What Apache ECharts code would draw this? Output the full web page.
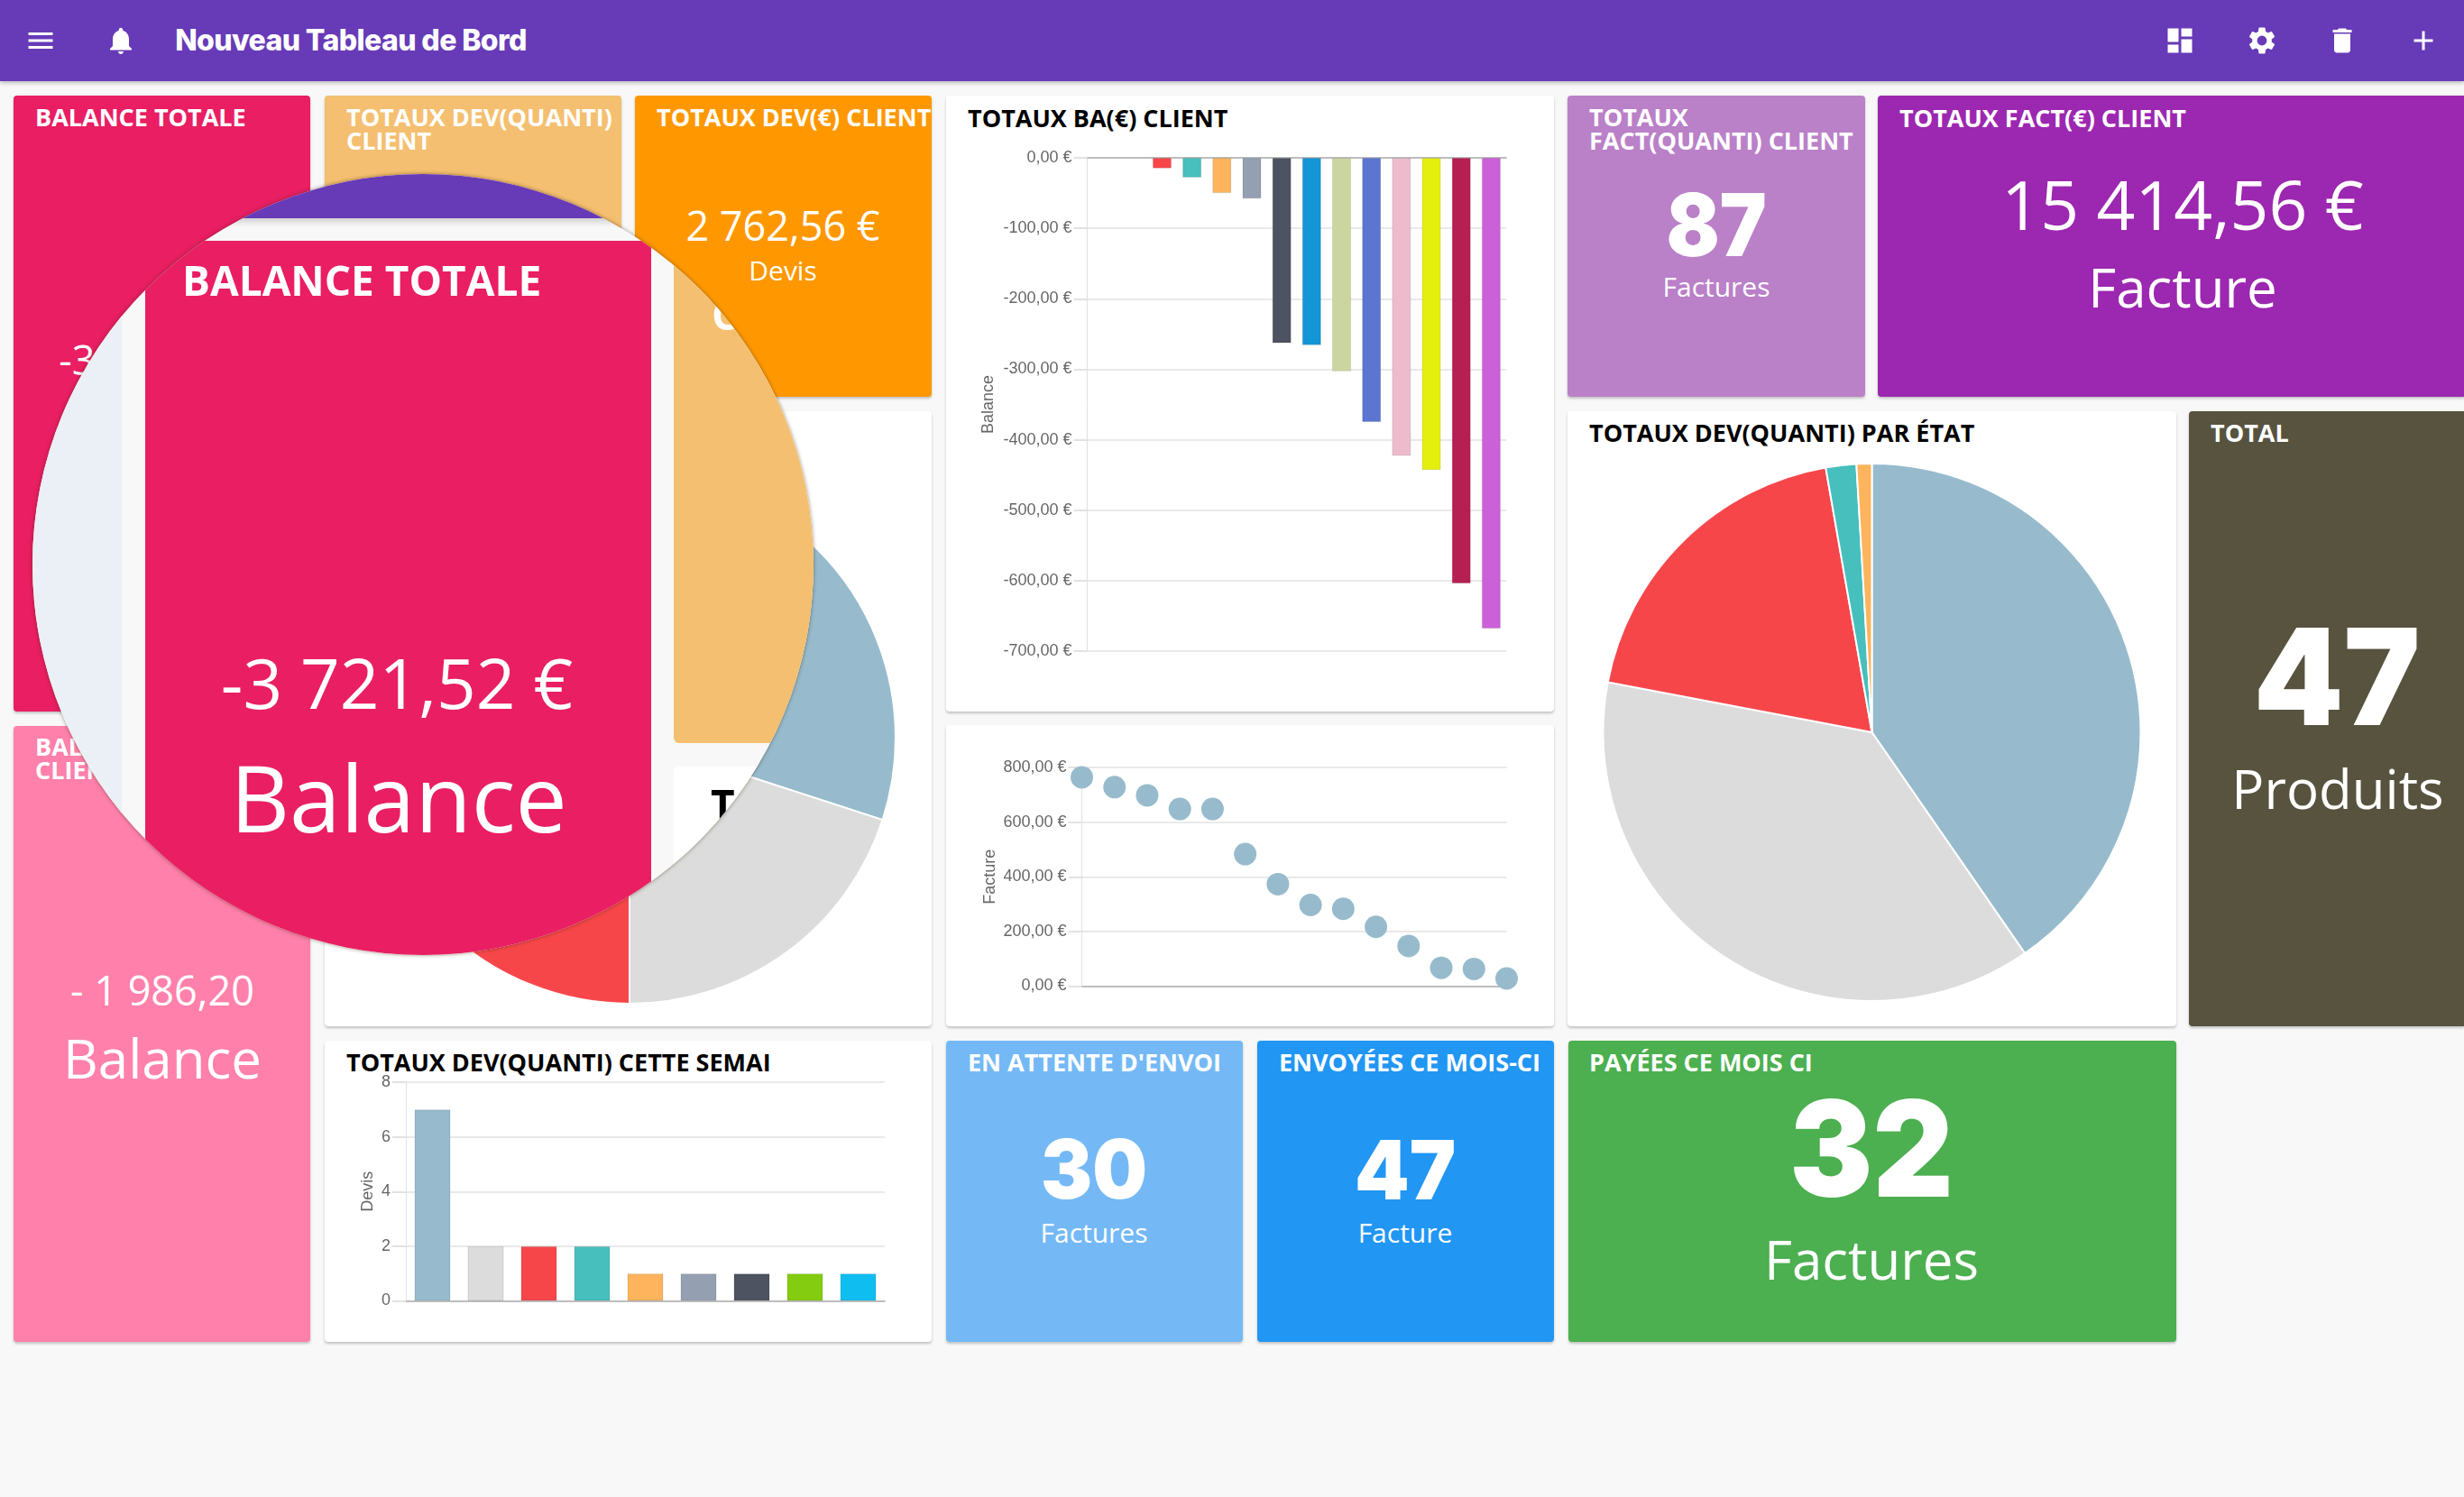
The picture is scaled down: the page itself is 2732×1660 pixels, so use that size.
<!DOCTYPE html>
<html lang="fr"><head><meta charset="utf-8"><title>Nouveau Tableau de Bord</title>
<script src="https://cdn.jsdelivr.net/npm/echarts@6/dist/echarts.min.js"></script>
<style>
html,body{margin:0;padding:0;width:2732px;height:1660px;overflow:hidden;background:#f8f8f8;font-family:"Open Sans",sans-serif}
.card,.bar,.t,.c,.ic{position:absolute}
.card{border-radius:4px;box-shadow:0 2px 3px rgba(0,0,0,.22);color:#fff;z-index:1;overflow:hidden}
.white{background:#fff;color:#000}
.t{position:absolute;font-weight:700;font-size:27px;line-height:26px;white-space:pre;letter-spacing:0;z-index:1}
.c{transform:translate(-50%,-50%);white-space:pre;color:#fff;line-height:1;z-index:1}
.hv{font-family:Inter,sans-serif;font-weight:900}
.bar{left:0;top:0;width:2732px;height:90px;background:#673ab7;box-shadow:0 2px 5px rgba(0,0,0,.25);z-index:1}
#ch{position:absolute;left:0;top:0;width:2732px;height:1660px;z-index:2;pointer-events:none}
#lens{position:absolute;left:36px;top:193px;width:866px;height:866px;border-radius:50%;overflow:hidden;z-index:3;box-shadow:0 0 4px rgba(60,40,0,.55)}
#lens>div{position:absolute}
#li{left:-36px;top:-193px;width:2732px;height:1660px;background:#f8f8f8}
#li>div{position:absolute}
.ic{z-index:1;fill:#fff}
</style></head><body>
<div class="bar"></div>
<svg class="ic" style="left:27px;top:27px" width="36" height="36" viewBox="0 0 24 24"><path d="M3 18h18v-2H3v2zm0-5h18v-2H3v2zm0-7v2h18V6H3z"/></svg>
<svg class="ic" style="left:116px;top:27px" width="36" height="36" viewBox="0 0 24 24"><path d="M12 22c1.1 0 2-.9 2-2h-4c0 1.1.9 2 2 2zm6-6v-5c0-3.07-1.63-5.64-4.5-6.32V4c0-.83-.67-1.5-1.5-1.5s-1.5.67-1.5 1.5v.68C7.64 5.36 6 7.92 6 11v5l-2 2v1h16v-1l-2-2z"/></svg>
<div class="c hv" style="left:389px;top:45px;font-size:32px;font-weight:800;letter-spacing:-.6px;z-index:2">Nouveau Tableau de Bord</div>
<svg class="ic" style="left:2399px;top:27px" width="36" height="36" viewBox="0 0 24 24"><path d="M3 13h8V3H3v10zm0 8h8v-6H3v6zm10 0h8V11h-8v10zm0-18v6h8V3h-8z"/></svg>
<svg class="ic" style="left:2490px;top:27px" width="36" height="36" viewBox="0 0 24 24"><path d="M19.14 12.94c.04-.3.06-.61.06-.94s-.02-.64-.07-.94l2.03-1.58a.5.5 0 0 0 .12-.61l-1.92-3.32a.5.5 0 0 0-.59-.22l-2.39.96a7.03 7.03 0 0 0-1.62-.94l-.36-2.54a.48.48 0 0 0-.48-.41h-3.84a.48.48 0 0 0-.47.41l-.36 2.54c-.59.24-1.13.57-1.62.94l-2.39-.96a.49.49 0 0 0-.59.22L2.74 8.87a.49.49 0 0 0 .12.61l2.03 1.58c-.05.3-.09.63-.09.94s.02.64.07.94l-2.03 1.58a.5.5 0 0 0-.12.61l1.92 3.32c.12.22.37.29.59.22l2.39-.96c.5.38 1.03.7 1.62.94l.36 2.54c.05.24.24.41.48.41h3.84c.24 0 .44-.17.47-.41l.36-2.54c.59-.24 1.13-.56 1.62-.94l2.39.96c.22.08.47 0 .59-.22l1.92-3.32a.49.49 0 0 0-.12-.61l-2.01-1.58zM12 15.6A3.6 3.6 0 1 1 12 8.4a3.6 3.6 0 0 1 0 7.2z"/></svg>
<svg class="ic" style="left:2579px;top:27px" width="36" height="36" viewBox="0 0 24 24"><path d="M6 19c0 1.1.9 2 2 2h8c1.1 0 2-.9 2-2V7H6v12zM19 4h-3.5l-1-1h-5l-1 1H5v2h14V4z"/></svg>
<svg class="ic" style="left:2669px;top:27px" width="36" height="36" viewBox="0 0 24 24"><path d="M19 13h-6v6h-2v-6H5v-2h6V5h2v6h6v2z"/></svg>

<div class="card" style="left:15px;top:106px;width:329px;height:683px;background:#e91e63"></div>
<div class="t" style="left:39px;top:117px;color:#fff">BALANCE TOTALE</div>
<div class="c" style="left:180px;top:398px;font-size:45px">-3 721,52 €</div>

<div class="card" style="left:360px;top:106px;width:329px;height:334px;background:#f4bf70"></div>
<div class="t" style="left:384px;top:117px;color:#fff">TOTAUX DEV(QUANTI)
CLIENT</div>

<div class="card" style="left:704px;top:106px;width:329px;height:334px;background:#ff9800"></div>
<div class="t" style="left:728px;top:117px;color:#fff">TOTAUX DEV(€) CLIENT</div>
<div class="c" style="left:868px;top:249px;font-size:45px">2 762,56 €</div>
<div class="c" style="left:868px;top:300px;font-size:30px">Devis</div>

<div class="card white" style="left:360px;top:456px;width:673px;height:682px"></div>
<div class="card" style="left:15px;top:805px;width:329px;height:683px;background:#ff80ab"></div>
<div class="t" style="left:39px;top:815px;color:#fff">BALANCE
CLIENT</div>
<div class="c" style="left:180px;top:1097px;font-size:45px">- 1 986,20</div>
<div class="c" style="left:180px;top:1173px;font-size:60px">Balance</div>

<div class="card white" style="left:360px;top:1154px;width:673px;height:334px"></div>
<div class="t" style="left:384px;top:1165px;color:#000">TOTAUX DEV(QUANTI) CETTE SEMAI</div>

<div class="card white" style="left:1049px;top:106px;width:674px;height:683px"></div>
<div class="t" style="left:1073px;top:118px;color:#000">TOTAUX BA(€) CLIENT</div>
<div class="card white" style="left:1049px;top:804px;width:674px;height:334px"></div>

<div class="card" style="left:1738px;top:106px;width:330px;height:334px;background:#ba80c8"></div>
<div class="t" style="left:1762px;top:117px;color:#fff">TOTAUX
FACT(QUANTI) CLIENT</div>
<div class="c hv" style="left:1903px;top:249px;font-size:96px;transform:translate(-50%,-50%) scaleX(.91)">87</div>
<div class="c" style="left:1903px;top:318px;font-size:30px">Factures</div>

<div class="card" style="left:2082px;top:106px;width:650px;height:334px;background:#9c27b0;border-radius:4px 0 0 4px"></div>
<div class="t" style="left:2106px;top:118px;color:#fff">TOTAUX FACT(€) CLIENT</div>
<div class="c" style="left:2420px;top:226px;font-size:75px">15 414,56 €</div>
<div class="c" style="left:2420px;top:318px;font-size:60px">Facture</div>

<div class="card white" style="left:1738px;top:456px;width:675px;height:682px"></div>
<div class="t" style="left:1762px;top:467px;color:#000">TOTAUX DEV(QUANTI) PAR ÉTAT</div>

<div class="card" style="left:2427px;top:456px;width:305px;height:682px;background:#57533f;border-radius:4px 0 0 4px"></div>
<div class="t" style="left:2451px;top:467px;color:#fff">TOTAL</div>
<div class="c hv" style="left:2591px;top:751px;font-size:148px;transform:translate(-50%,-50%) scaleX(.96)">47</div>
<div class="c" style="left:2592px;top:874px;font-size:60px">Produits</div>

<div class="card" style="left:1049px;top:1154px;width:329px;height:334px;background:#74b9f5"></div>
<div class="t" style="left:1073px;top:1165px;color:#fff">EN ATTENTE D'ENVOI</div>
<div class="c hv" style="left:1213px;top:1296px;font-size:91px;transform:translate(-50%,-50%) scaleX(.94)">30</div>
<div class="c" style="left:1213px;top:1367px;font-size:30px">Factures</div>

<div class="card" style="left:1394px;top:1154px;width:329px;height:334px;background:#2196f3"></div>
<div class="t" style="left:1418px;top:1165px;color:#fff">ENVOYÉES CE MOIS-CI</div>
<div class="c hv" style="left:1558px;top:1297px;font-size:91px;transform:translate(-50%,-50%) scaleX(.95)">47</div>
<div class="c" style="left:1558px;top:1367px;font-size:30px">Facture</div>

<div class="card" style="left:1739px;top:1154px;width:674px;height:334px;background:#4caf50"></div>
<div class="t" style="left:1762px;top:1165px;color:#fff">PAYÉES CE MOIS CI</div>
<div class="c hv" style="left:2075px;top:1274px;font-size:148px;transform:translate(-50%,-50%) scaleX(.935)">32</div>
<div class="c" style="left:2075px;top:1396px;font-size:60px">Factures</div>

<div id="ch"></div>

<div id="lens"><div id="li">
  <div style="left:0;top:0;width:2732px;height:242px;background:#673ab7;box-shadow:0 3px 8px rgba(0,0,0,.2)"></div>
  <div style="left:0;top:242px;width:135px;height:900px;background:#eaf0f5"></div>
  <div style="left:160.5px;top:267px;width:561px;height:850px;background:#e91e63"></div>
  <div style="left:747px;top:267px;width:300px;height:557px;background:#f4bf70;border-radius:6px"></div>
  <div style="left:747px;top:850px;width:300px;height:300px;background:#fff;border-radius:6px"></div>
  <div class="t" style="left:789px;top:326px;font-size:46px;line-height:44px;color:#fff">CLIENT</div>
  <div class="t" style="left:788px;top:869px;font-size:46px;line-height:44px;color:#000">TOTAUX</div>
  <div class="t" style="left:202px;top:288px;font-size:46px;line-height:44px;color:#fff">BALANCE TOTALE</div>
  <div class="c" style="left:440px;top:756px;font-size:76.5px">-3 721,52 €</div>
  <div class="c" style="left:442px;top:884px;font-size:102px">Balance</div>
</div></div>

<script>
var balanceCats = ['c1','c2','c3','c4','c5','c6','c7','c8','c9','c10','c11','c12','c13','c14'];
var balanceVals = [0,0,-15,-28,-50,-58,-263,-266,-303,-375,-423,-443,-604,-668];
var balanceCols = ['#97bbcd','#dcdcdc','#f7464a','#46bfbd','#fdb45c','#949fb1','#4d5360','#1395d6','#cbd5a0','#5b75d0','#ecbccd','#e4ef0f','#b51f52','#cb60d8'];
var factureCats = balanceCats;
var factureVals = [764,728,698,648,648,483,373,297,283,217,147,67,63,28];
var weekCats = ['s1','s2','s3','s4','s5','s6','s7','s8','s9'];
var weekVals = [7,2,2,2,1,1,1,1,1];
var weekCols = ['#97bbcd','#dcdcdc','#f7464a','#46bfbd','#fdb45c','#949fb1','#4d5360','#84cc10','#10bdf0'];
var etatNames = ['A','B','C','D','E'];
var etatVals = [44,41,21,2,1];
var etatCols = ['#97bbcd','#dcdcdc','#f7464a','#46bfbd','#fdb45c'];
var clientPieVals = [30,20,50];
var clientPieCols = ['#97bbcd','#dcdcdc','#f7464a'];

var euro = function(v){return v.toFixed(2).replace('.',',')+' €';};
var lbl = {color:'#666',fontFamily:'Liberation Sans, Arial',fontSize:18};
var gridLine = {show:true,lineStyle:{color:'#e9e9e9',width:2}};
function yAx(idx,o){return Object.assign({
  type:'value',gridIndex:idx,nameLocation:'middle',
  nameTextStyle:{color:'#666',fontFamily:'Liberation Sans, Arial',fontSize:18},
  axisLine:{show:true,lineStyle:{color:'#e2e2e2'}},
  axisTick:{show:true,length:15,lineStyle:{color:'#e2e2e2',width:2}},
  axisLabel:Object.assign({margin:17},lbl),splitLine:gridLine},o);}
function xAx(idx,o){return Object.assign({
  type:'category',gridIndex:idx,
  axisLine:{show:true,onZero:false,lineStyle:{color:'#bdbdbd',width:2}},
  axisTick:{show:false},axisLabel:{show:false},splitLine:{show:false}},o);}
function colored(v,c){return v.map(function(x,i){return {value:x,itemStyle:{color:c[i],borderColor:'rgba(0,0,0,.1)',borderWidth:x===0?0:1,opacity:x===0?0:1}};});}
function pieData(v,c,n){return v.map(function(x,i){return {name:n?n[i]:String(i),value:x,itemStyle:{color:c[i]}};});}

var chart = echarts.init(document.getElementById('ch'),null,{width:2732,height:1660});
chart.setOption({
  animation:false,backgroundColor:'transparent',
  grid:[
    {left:1205.5,top:175,width:464.5,height:547},
    {left:1199.5,top:851,width:471,height:242.5},
    {left:450,top:1200,width:531,height:242.5}
  ],
  xAxis:[
    xAx(0,{data:balanceCats,position:'top'}),
    xAx(1,{data:factureCats,boundaryGap:false}),
    xAx(2,{data:weekCats})
  ],
  yAxis:[
    yAx(0,{min:-700,max:0,interval:100,name:'Balance',nameGap:100,axisLabel:Object.assign({margin:17,formatter:euro},lbl)}),
    yAx(1,{min:0,max:800,interval:200,name:'Facture',nameGap:92,axisLabel:Object.assign({margin:17,formatter:euro},lbl)}),
    yAx(2,{min:0,max:8,interval:2,name:'Devis',nameGap:33})
  ],
  series:[
    {type:'bar',xAxisIndex:0,yAxisIndex:0,barWidth:21,data:colored(balanceVals,balanceCols),silent:true},
    {type:'scatter',xAxisIndex:1,yAxisIndex:1,symbolSize:25,itemStyle:{color:'#97bbcd',opacity:1},data:factureVals,silent:true},
    {type:'bar',xAxisIndex:2,yAxisIndex:2,barWidth:40,data:colored(weekVals,weekCols),silent:true},
    {type:'pie',center:[698,818],radius:295,startAngle:90,clockwise:true,label:{show:false},labelLine:{show:false},silent:true,
      itemStyle:{borderColor:'#fff',borderWidth:2},data:pieData(clientPieVals,clientPieCols)},
    {type:'pie',center:[2075.5,812],radius:298,startAngle:90,clockwise:true,label:{show:false},labelLine:{show:false},silent:true,
      itemStyle:{borderColor:'#fff',borderWidth:2},data:pieData(etatVals,etatCols,etatNames)}
  ]
});
</script>
</body></html>
